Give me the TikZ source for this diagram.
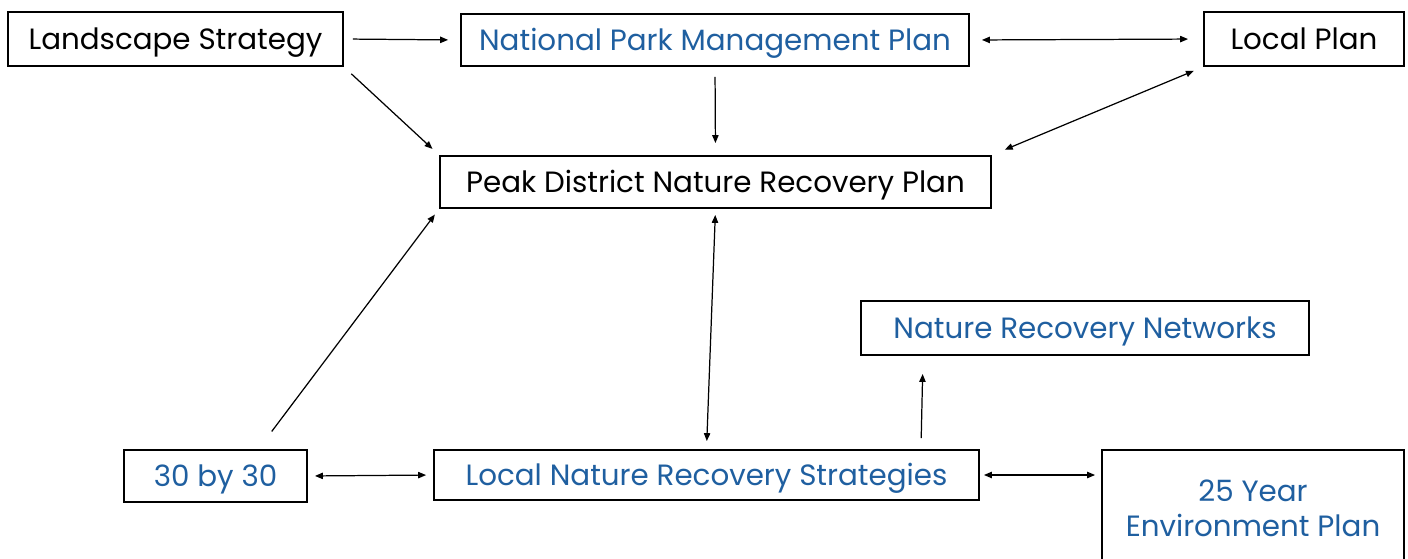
\documentclass[tikz,border=0pt]{standalone}
\usepackage{fontspec}
\setmainfont{Poppins}
\usetikzlibrary{arrows.meta,positioning}
\definecolor{planblue}{HTML}{1F5FA0}

\begin{document}
\begin{tikzpicture}[x=0.02cm, y=-0.02cm,
frame/.style={draw, line width=1.1pt, inner sep=0pt, align=center,
 font=\fontsize{16.7}{20}\selectfont},
box/.style={frame, text height=11.6pt, text depth=0pt},
blue box/.style={box, text=planblue},
>={Triangle[length=4.5pt,width=3.6pt]}, line width=0.7pt]
\useasboundingbox (0,0) rectangle (1408,558);

\node [box, minimum width=6.70cm, minimum height=1.08cm] (ls) at (175.5,39) {Landscape Strategy};
\node [blue box, minimum width=10.16cm, minimum height=1.04cm] (npmp) at (715,40) {National Park Management Plan};
\node [box, minimum width=4.00cm, minimum height=1.08cm] (lp) at (1304,39) {Local Plan};
\node [box, minimum width=11.02cm, minimum height=1.04cm] (pdnrp) at (715.5,182) {Peak District Nature Recovery Plan};
\node [blue box, minimum width=8.96cm, minimum height=1.08cm] (nrn) at (1085,328) {Nature Recovery Networks};
\node [blue box, minimum width=3.66cm, minimum height=1.04cm] (t30) at (215.5,476) {30 by 30};
\node [blue box, minimum width=10.90cm, minimum height=1.00cm] (lnrs) at (706.5,475) {Local Nature Recovery Strategies};
\node [frame, text=planblue, minimum width=6.04cm, minimum height=2.32cm] (yep) at (1253,508) {25 Year\\Environment Plan};

\path [->]
(ls.east) edge [shorten <=0.18cm, shorten >=0.24cm] (npmp.west)
(ls.south east) edge [shorten <=0.2cm, shorten >=0.18cm] (pdnrp.north west)
(npmp.south) edge [shorten <=0.2cm, shorten >=0.24cm] (pdnrp.north)
([xshift=0.86cm]t30.north) edge [shorten <=0.44cm, shorten >=0.14cm] (pdnrp.south west)
([xshift=4.29cm]lnrs.north) edge [shorten <=0.22cm, shorten >=0.36cm] ([xshift=-3.24cm]nrn.south);

\path [<->]
(npmp.east) edge [shorten <=0.24cm, shorten >=0.3cm] (lp.west)
(lp.south west) edge [shorten <=0.2cm, shorten >=0.28cm] (pdnrp.north east)
(pdnrp.south) edge [shorten <=0.12cm, shorten >=0.16cm] (lnrs.north)
(t30.east) edge [shorten <=0.14cm, shorten >=0.14cm] (lnrs.west)
(lnrs.east) edge [shorten <=0.08cm, shorten >=0.12cm] (lnrs.east -| yep.west);

\end{tikzpicture}
\end{document}
